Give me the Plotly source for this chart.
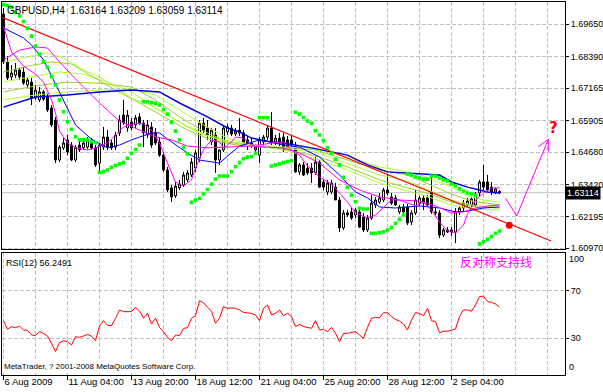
import plotly.graph_objects as go

# ---------------- data ----------------
symbol = "GBPUSD,H4"

opens = [1.7004, 1.6818, 1.6760, 1.6767, 1.6787, 1.6779, 1.6729, 1.6740, 1.6678, 1.6671,
         1.6702, 1.6682, 1.6640, 1.6593, 1.6438, 1.6485, 1.6516, 1.6496, 1.6438, 1.6496,
         1.6485, 1.6488, 1.6508, 1.6485, 1.6426, 1.6488, 1.6527, 1.6504, 1.6488, 1.6543,
         1.6612, 1.6562, 1.6585, 1.6574, 1.6605, 1.6581, 1.6535, 1.6566, 1.6543, 1.6508,
         1.6457, 1.6399, 1.6330, 1.6299, 1.6330, 1.6341, 1.6361, 1.6380, 1.6407, 1.6446,
         1.6581, 1.6562, 1.6508, 1.6535, 1.6438, 1.6477, 1.6547, 1.6562, 1.6539, 1.6554,
         1.6543, 1.6516, 1.6504, 1.6477, 1.6457, 1.6508, 1.6527, 1.6562, 1.6508, 1.6523,
         1.6527, 1.6516, 1.6516, 1.6488, 1.6392, 1.6419, 1.6407, 1.6407, 1.6388, 1.6430,
         1.6353, 1.6314, 1.6314, 1.6333, 1.6283, 1.6175, 1.6233, 1.6237, 1.6225, 1.6237,
         1.6217, 1.6167, 1.6213, 1.6264, 1.6275, 1.6283, 1.6322, 1.6295, 1.6291, 1.6237,
         1.6256, 1.6256, 1.6198, 1.6233, 1.6271, 1.6291, 1.6291, 1.6314, 1.6237, 1.6233,
         1.6147, 1.6167, 1.6159, 1.6159, 1.6237, 1.6252, 1.6264, 1.6264, 1.6264, 1.6310,
         1.6353, 1.6353, 1.6333, 1.6314, 1.63164]
highs = [1.7027, 1.6841, 1.6806, 1.6814, 1.6795, 1.6798, 1.6756, 1.6756, 1.6729, 1.6721,
         1.6709, 1.6698, 1.6651, 1.6605, 1.6496, 1.6523, 1.6535, 1.6508, 1.6496, 1.6516,
         1.6516, 1.6527, 1.6523, 1.6496, 1.6504, 1.6566, 1.6554, 1.6516, 1.6547, 1.6612,
         1.6671, 1.6632, 1.6601, 1.6612, 1.6620, 1.6593, 1.6593, 1.6585, 1.6562, 1.6527,
         1.6469, 1.6411, 1.6341, 1.6353, 1.6361, 1.6392, 1.6399, 1.6446, 1.6477, 1.6593,
         1.6601, 1.6593, 1.6562, 1.6562, 1.6477, 1.6570, 1.6578, 1.6574, 1.6562, 1.6601,
         1.6554, 1.6531, 1.6523, 1.6496, 1.6527, 1.6535, 1.6574, 1.6624, 1.6535, 1.6543,
         1.6543, 1.6531, 1.6535, 1.6508, 1.6426, 1.6430, 1.6426, 1.6426, 1.6450, 1.6438,
         1.6361, 1.6361, 1.6361, 1.6349, 1.6295, 1.6244, 1.6244, 1.6252, 1.6252, 1.6252,
         1.6233, 1.6225, 1.6302, 1.6295, 1.6310, 1.6330, 1.6380, 1.6310, 1.6302, 1.6264,
         1.6268, 1.6268, 1.6244, 1.6322, 1.6299, 1.6302, 1.6302, 1.6380, 1.6252, 1.6244,
         1.6175, 1.6178, 1.6178, 1.6252, 1.6260, 1.6283, 1.6291, 1.6295, 1.6314, 1.6361,
         1.6419, 1.6380, 1.6353, 1.6330, 1.63209]
lows = [1.6810, 1.6748, 1.6748, 1.6756, 1.6748, 1.6729, 1.6717, 1.6651, 1.6671, 1.6663,
        1.6667, 1.6624, 1.6566, 1.6426, 1.6430, 1.6477, 1.6457, 1.6434, 1.6430, 1.6469,
        1.6477, 1.6481, 1.6477, 1.6411, 1.6392, 1.6477, 1.6477, 1.6477, 1.6477, 1.6531,
        1.6574, 1.6547, 1.6554, 1.6562, 1.6574, 1.6488, 1.6523, 1.6485, 1.6496, 1.6450,
        1.6392, 1.6314, 1.6275, 1.6291, 1.6322, 1.6333, 1.6353, 1.6372, 1.6392, 1.6430,
        1.6543, 1.6516, 1.6496, 1.6388, 1.6419, 1.6469, 1.6535, 1.6531, 1.6531, 1.6531,
        1.6492, 1.6477, 1.6485, 1.6457, 1.6426, 1.6492, 1.6516, 1.6496, 1.6496, 1.6492,
        1.6469, 1.6477, 1.6485, 1.6388, 1.6380, 1.6376, 1.6380, 1.6349, 1.6380, 1.6330,
        1.6322, 1.6302, 1.6306, 1.6283, 1.6159, 1.6167, 1.6217, 1.6206, 1.6213, 1.6175,
        1.6159, 1.6159, 1.6206, 1.6252, 1.6268, 1.6275, 1.6302, 1.6264, 1.6260, 1.6229,
        1.6233, 1.6186, 1.6186, 1.6225, 1.6260, 1.6244, 1.6256, 1.6229, 1.6225, 1.6136,
        1.6140, 1.6155, 1.6144, 1.6116, 1.6225, 1.6237, 1.6252, 1.6256, 1.6256, 1.6295,
        1.6322, 1.6314, 1.6302, 1.6306, 1.63059]
closes = [1.6818, 1.6756, 1.6775, 1.6787, 1.6760, 1.6736, 1.6748, 1.6678, 1.6709, 1.6702,
          1.6674, 1.6632, 1.6574, 1.6438, 1.6488, 1.6504, 1.6469, 1.6438, 1.6488, 1.6477,
          1.6504, 1.6516, 1.6485, 1.6419, 1.6496, 1.6527, 1.6488, 1.6485, 1.6535, 1.6593,
          1.6581, 1.6612, 1.6562, 1.6601, 1.6581, 1.6543, 1.6574, 1.6496, 1.6504, 1.6457,
          1.6399, 1.6322, 1.6295, 1.6337, 1.6345, 1.6380, 1.6388, 1.6430, 1.6465, 1.6581,
          1.6554, 1.6535, 1.6554, 1.6438, 1.6477, 1.6562, 1.6566, 1.6539, 1.6550, 1.6543,
          1.6500, 1.6496, 1.6492, 1.6488, 1.6516, 1.6527, 1.6562, 1.6508, 1.6523, 1.6504,
          1.6477, 1.6485, 1.6496, 1.6392, 1.6419, 1.6380, 1.6388, 1.6388, 1.6430, 1.6333,
          1.6333, 1.6349, 1.6349, 1.6283, 1.6175, 1.6233, 1.6225, 1.6213, 1.6244, 1.6178,
          1.6167, 1.6213, 1.6271, 1.6283, 1.6291, 1.6322, 1.6310, 1.6271, 1.6264, 1.6256,
          1.6237, 1.6194, 1.6233, 1.6283, 1.6291, 1.6271, 1.6264, 1.6237, 1.6233, 1.6147,
          1.6167, 1.6159, 1.6167, 1.6237, 1.6252, 1.6271, 1.6279, 1.6287, 1.6302, 1.6353,
          1.6333, 1.6322, 1.6314, 1.6326, 1.63114]

# Parabolic SAR, one dot per bar
sar = [1.7040, 1.7037, 1.7030, 1.7010, 1.6996, 1.6975, 1.6948, 1.6918, 1.6880, 1.6849,
       1.6819, 1.6797, 1.6761, 1.6729, 1.6671, 1.6625, 1.6586, 1.6557, 1.6528, 1.6516,
       1.6516, 1.6516, 1.6509, 1.6505, 1.6390, 1.6393, 1.6399, 1.6410, 1.6417, 1.6423,
       1.6428, 1.6445, 1.6464, 1.6479, 1.6496, 1.6664, 1.6664, 1.6660, 1.6658, 1.6651,
       1.6634, 1.6616, 1.6584, 1.6550, 1.6516, 1.6487, 1.6461, 1.6274, 1.6283, 1.6290,
       1.6306, 1.6324, 1.6344, 1.6364, 1.6376, 1.6376, 1.6376, 1.6393, 1.6412, 1.6428,
       1.6443, 1.6449, 1.6451, 1.6464, 1.6603, 1.6602, 1.6602, 1.6415, 1.6419, 1.6423,
       1.6428, 1.6432, 1.6435, 1.6623, 1.6616, 1.6603, 1.6589, 1.6580, 1.6552, 1.6535,
       1.6513, 1.6486, 1.6464, 1.6441, 1.6419, 1.6371, 1.6332, 1.6302, 1.6276, 1.6251,
       1.6248, 1.6248, 1.6154, 1.6154, 1.6156, 1.6160, 1.6167, 1.6177, 1.6193, 1.6208,
       1.6225, 1.6384, 1.6380, 1.6372, 1.6368, 1.6364, 1.6364, 1.6376, 1.6376, 1.6368,
       1.6361, 1.6357, 1.6345, 1.6337, 1.6326, 1.6318, 1.6310, 1.6306, 1.6302, 1.6113,
       1.6121, 1.6131, 1.6141, 1.6154, 1.6163]

# RSI(12), one value per bar
rsi = [44.8, 37.5, 39.8, 38.9, 40.3, 37.0, 36.7, 32.8, 32.2, 35.6,
       34.2, 31.9, 25.8, 18.8, 26.3, 28.0, 27.2, 24.4, 31.4, 30.8,
       31.9, 33.3, 31.9, 28.0, 40.3, 44.8, 40.9, 40.6, 46.8, 53.8,
       52.4, 52.7, 52.4, 56.0, 52.9, 46.8, 51.0, 42.0, 46.8, 39.2,
       35.6, 30.8, 28.0, 32.8, 32.2, 38.4, 38.9, 46.8, 49.0, 61.6,
       59.9, 56.0, 52.9, 42.6, 46.8, 56.6, 55.2, 55.5, 55.2, 53.8,
       51.8, 51.3, 51.0, 49.6, 44.8, 55.2, 58.0, 49.6, 51.0, 53.8,
       49.0, 51.0, 48.2, 39.8, 41.7, 39.8, 39.2, 38.4, 44.8, 37.0,
       37.5, 35.6, 39.2, 34.2, 27.2, 34.2, 34.2, 34.7, 35.6, 32.8,
       30.0, 39.2, 46.8, 47.6, 47.3, 51.5, 51.5, 48.2, 45.9, 44.5,
       42.0, 37.0, 45.4, 51.5, 51.0, 49.0, 55.2, 44.8, 44.0, 34.7,
       35.9, 35.9, 37.0, 37.8, 48.2, 53.8, 53.8, 52.7, 58.0, 65.0,
       65.5, 60.8, 60.2, 58.8, 56.2491]

# moving-average style lines (vertices read at bar positions)
fast_ma_bars = [0, 2, 5, 8, 10, 12, 13, 14, 16, 18, 21, 23, 26, 28, 30, 33, 35, 37, 39, 41,
                43, 45, 47, 48, 50, 52, 54, 55, 57, 58, 60, 62, 64, 67, 70, 72, 74, 76, 79, 82,
                84, 86, 88, 91, 93, 95, 97, 99, 101, 103, 105, 107, 109, 111, 113, 115, 116, 118, 120, 122, 124]
fast_ma = [1.6955, 1.6857, 1.6802, 1.6771, 1.6740, 1.6671, 1.6620, 1.6550, 1.6504, 1.6485,
           1.6477, 1.6485, 1.6504, 1.6535, 1.6566, 1.6581, 1.6578, 1.6554, 1.6504, 1.6426,
           1.6353, 1.6337, 1.6361, 1.6407, 1.6477, 1.6516, 1.6508, 1.6485, 1.6508, 1.6527,
           1.6523, 1.6496, 1.6496, 1.6504, 1.6508, 1.6477, 1.6457, 1.6415, 1.6372, 1.6345,
           1.6310, 1.6275, 1.6233, 1.6213, 1.6225, 1.6256, 1.6283, 1.6283, 1.6271, 1.6260,
           1.6275, 1.6244, 1.6198, 1.6163, 1.6155, 1.6186, 1.6229, 1.6283, 1.6310, 1.6330, 1.6330]

slow_ma_bars = [0, 4, 8, 11, 14, 18, 24, 29, 34, 38, 42, 46, 51, 56, 62, 66, 70, 74, 79, 84,
                89, 94, 99, 104, 108, 112, 115, 118, 121, 124]
slow_ma = [1.6826, 1.6864, 1.6876, 1.6872, 1.6818, 1.6752, 1.6659, 1.6589, 1.6554, 1.6527,
           1.6516, 1.6492, 1.6485, 1.6488, 1.6492, 1.6488, 1.6485, 1.6465, 1.6426, 1.6361,
           1.6322, 1.6295, 1.6283, 1.6279, 1.6260, 1.6233, 1.6237, 1.6252, 1.6260, 1.6264]

blue_thin_bars = [0, 5, 7, 10, 12, 15, 18, 22, 26, 29, 32, 37, 39, 41, 46, 49, 54, 56, 59, 64,
                  70, 74, 79, 84, 88, 91, 94, 98, 102, 104, 109, 113, 116, 120, 124]
blue_thin = [1.6950, 1.6911, 1.6884, 1.6826, 1.6764, 1.6671, 1.6574, 1.6519, 1.6485, 1.6496,
             1.6516, 1.6543, 1.6543, 1.6519, 1.6465, 1.6438, 1.6426, 1.6453, 1.6492, 1.6516,
             1.6496, 1.6488, 1.6450, 1.6380, 1.6314, 1.6291, 1.6256, 1.6252, 1.6256, 1.6260,
             1.6252, 1.6237, 1.6240, 1.6252, 1.6256]

blue_thick_bars = [0, 8, 16, 24, 32, 39, 44, 51, 56, 59, 62, 67, 70, 77, 86, 91, 96, 101, 105,
                   109, 112, 116, 119, 121, 124]
blue_thick = [1.6643, 1.6682, 1.6690, 1.6702, 1.6709, 1.6702, 1.6659, 1.6605, 1.6562, 1.6547,
              1.6523, 1.6508, 1.6504, 1.6485, 1.6457, 1.6419, 1.6392, 1.6388, 1.6384, 1.6380,
              1.6353, 1.6333, 1.6322, 1.6314, 1.6310]

ribbon1_bars = [0, 6, 11, 15, 20, 24, 28, 32, 36, 40, 46, 50, 56, 62, 70, 77, 86, 94, 101, 105, 112, 116, 120, 124]
ribbon1 = [1.6818, 1.6837, 1.6853, 1.6833, 1.6787, 1.6760, 1.6721, 1.6678, 1.6655, 1.6620,
           1.6566, 1.6535, 1.6512, 1.6496, 1.6488, 1.6485, 1.6450, 1.6411, 1.6392, 1.6376,
           1.6333, 1.6299, 1.6283, 1.6275]
ribbon2_bars = [0, 6, 12, 17, 22, 28, 34, 40, 46, 52, 58, 66, 72, 78, 86, 94, 101, 105, 112, 117, 124]
ribbon2 = [1.6779, 1.6802, 1.6818, 1.6810, 1.6764, 1.6709, 1.6659, 1.6608, 1.6554, 1.6516,
           1.6496, 1.6488, 1.6485, 1.6477, 1.6438, 1.6399, 1.6380, 1.6353, 1.6306, 1.6279, 1.6264]
ribbon3_bars = [0, 8, 14, 20, 26, 32, 38, 44, 50, 56, 62, 70, 78, 86, 94, 101, 105, 112, 118, 124]
ribbon3 = [1.6740, 1.6764, 1.6779, 1.6771, 1.6740, 1.6702, 1.6640, 1.6585, 1.6539, 1.6504,
           1.6492, 1.6485, 1.6469, 1.6426, 1.6380, 1.6357, 1.6330, 1.6283, 1.6260, 1.6256]
ribbon4_bars = [0, 8, 16, 24, 32, 38, 44, 50, 56, 62, 70, 79, 86, 94, 101, 105, 112, 118, 124]
ribbon4 = [1.6702, 1.6725, 1.6740, 1.6736, 1.6721, 1.6671, 1.6605, 1.6550, 1.6508, 1.6492,
           1.6481, 1.6450, 1.6411, 1.6361, 1.6330, 1.6314, 1.6275, 1.6256, 1.6252]
ribbon5_bars = [0, 8, 16, 24, 32, 38, 44, 50, 56, 62, 70, 79, 86, 94, 101, 105, 112, 118, 124]
ribbon5 = [1.6671, 1.6690, 1.6702, 1.6709, 1.6713, 1.6690, 1.6632, 1.6574, 1.6523, 1.6496,
           1.6477, 1.6438, 1.6399, 1.6349, 1.6318, 1.6302, 1.6264, 1.6248, 1.6244]

# hand-drawn objects
trend_bars = [-0.375, 136.9]
trend_prices = [1.69906, 1.61241]
support_dot_bar = [126.45]
support_dot_price = [1.6185]
arrow_bars = [125.55, 128.3, 136.2]
arrow_prices = [1.62896, 1.62210, 1.65182]
arrowhead_bars = [133.7, 136.2, 136.2]
arrowhead_prices = [1.64895, 1.65182, 1.64701]
question_bar, question_price = 137.4, 1.6562

# axis ticks
price_ticks = [1.69650, 1.68390, 1.67165, 1.65905, 1.64680, 1.63420, 1.62195, 1.60970]
date_tick_bars = [0, 16, 32, 48, 64, 80, 96, 112]
date_labels = ["6 Aug 2009", "11 Aug 04:00", "13 Aug 20:00", "18 Aug 12:00",
               "21 Aug 04:00", "25 Aug 20:00", "28 Aug 12:00", "2 Sep 04:00"]
grid_bars = list(range(8, 141, 8))
rsi_ticks = [70, 30]

# ---------------- figure ----------------
FONT = "Liberation Sans, Arial, sans-serif"
GRID = "#C0C0C0"
DASH = "4px,2px"
X_RANGE = [-0.375, 140.375]
P_RANGE = [1.60920, 1.70503]
RSI_RANGE = [-0.84, 101.93]
bars = list(range(len(closes)))

fig = go.Figure()

fig.add_shape(type="line", xref="x domain", yref="y", x0=0, x1=1,
              y0=closes[-1], y1=closes[-1], line=dict(color="#C0C0C0", width=1), layer="below")

fig.add_trace(go.Candlestick(
    x=bars, open=opens, high=highs, low=lows, close=closes,
    increasing=dict(line=dict(color="black", width=1), fillcolor="white"),
    decreasing=dict(line=dict(color="black", width=1), fillcolor="black"),
    whiskerwidth=0, hoverinfo="skip", xaxis="x", yaxis="y"))

ribbons = [(ribbon5_bars, ribbon5, "#ADFF2F"), (ribbon4_bars, ribbon4, "#9ACD32"),
           (ribbon3_bars, ribbon3, "#ADFF2F"), (ribbon2_bars, ribbon2, "#9ACD32"),
           (ribbon1_bars, ribbon1, "#ADFF2F")]
for bx, by, col in ribbons:
    fig.add_trace(go.Scatter(x=bx, y=by, mode="lines", line=dict(color=col, width=1),
                             hoverinfo="skip", xaxis="x", yaxis="y"))

fig.add_trace(go.Scatter(x=blue_thick_bars, y=blue_thick, mode="lines",
                         line=dict(color="#0000E0", width=1.5), hoverinfo="skip"))
fig.add_trace(go.Scatter(x=blue_thin_bars, y=blue_thin, mode="lines",
                         line=dict(color="#0000FF", width=1), hoverinfo="skip"))
fig.add_trace(go.Scatter(x=slow_ma_bars, y=slow_ma, mode="lines",
                         line=dict(color="#FF00FF", width=1), hoverinfo="skip"))
fig.add_trace(go.Scatter(x=fast_ma_bars, y=fast_ma, mode="lines",
                         line=dict(color="#FF00FF", width=1), hoverinfo="skip"))

fig.add_trace(go.Scatter(x=trend_bars, y=trend_prices, mode="lines",
                         line=dict(color="#FF0000", width=1.2), hoverinfo="skip"))
fig.add_trace(go.Scatter(x=bars, y=sar, mode="markers",
                         marker=dict(symbol="square", size=3.6, color="#00FF00", line=dict(width=0)),
                         hoverinfo="skip"))
fig.add_trace(go.Scatter(x=support_dot_bar, y=support_dot_price, mode="markers",
                         marker=dict(symbol="circle", size=7, color="#FF0000", line=dict(width=0)),
                         hoverinfo="skip"))
fig.add_trace(go.Scatter(x=arrow_bars, y=arrow_prices, mode="lines",
                         line=dict(color="#FF00FF", width=1), hoverinfo="skip"))
fig.add_trace(go.Scatter(x=arrowhead_bars, y=arrowhead_prices, mode="lines",
                         line=dict(color="#FF00FF", width=1), hoverinfo="skip"))

fig.add_trace(go.Scatter(x=bars, y=rsi, mode="lines", line=dict(color="#FF0000", width=1),
                         hoverinfo="skip", xaxis="x2", yaxis="y2"))

axis_common = dict(showline=True, linecolor="black", linewidth=1, zeroline=False,
                   automargin=False, fixedrange=True)

fig.update_layout(
    template="none",
    width=603, height=392,
    margin=dict(l=2, r=38, t=2, b=17),
    paper_bgcolor="white", plot_bgcolor="white",
    showlegend=False, hovermode=False,
    font=dict(family=FONT, size=9, color="black"),
    xaxis=dict(domain=[0, 1], range=X_RANGE, anchor="y", mirror=True,
               tickmode="array", tickvals=grid_bars, showticklabels=False, ticks="",
               showgrid=True, gridcolor=GRID, gridwidth=1, griddash=DASH,
               rangeslider=dict(visible=False), **axis_common),
    yaxis=dict(domain=[0.3370, 1], range=P_RANGE, anchor="x", side="right", mirror=True,
               tickmode="array", tickvals=price_ticks, ticktext=[f"{p:.5f}" for p in price_ticks],
               ticks="outside", ticklen=3, tickcolor="black", tickfont=dict(size=9),
               showgrid=True, gridcolor=GRID, gridwidth=1, griddash=DASH, **axis_common),
    yaxis3=dict(overlaying="y", anchor="x", side="left", range=P_RANGE, showgrid=False,
                showticklabels=False, ticks="", showline=True, linecolor="black", linewidth=2.5,
                zeroline=False, automargin=False, fixedrange=True),
    xaxis2=dict(domain=[0, 1], range=X_RANGE, anchor="y2", mirror=True,
                tickmode="array", tickvals=date_tick_bars, ticktext=date_labels,
                ticks="outside", ticklen=4, tickcolor="black", ticklabelposition="outside right",
                tickangle=0, ticklabelstandoff=-2, tickfont=dict(size=9.5),
                showgrid=True, gridcolor=GRID, gridwidth=1, griddash=DASH,
                minor=dict(tickmode="array", tickvals=grid_bars, ticks="", showgrid=True,
                           gridcolor=GRID, gridwidth=1, griddash=DASH),
                rangeslider=dict(visible=False), **axis_common),
    yaxis2=dict(domain=[0, 0.3279], range=RSI_RANGE, anchor="x2", side="right", mirror=True,
                tickmode="array", tickvals=rsi_ticks, ticktext=[str(t) for t in rsi_ticks],
                ticks="outside", ticklen=3, tickcolor="black", tickfont=dict(size=9),
                showgrid=True, gridcolor=GRID, gridwidth=1, griddash=DASH, **axis_common),
)

title_text = (f"{symbol}\u00a0\u00a0{opens[-1]:.5f} {highs[-1]:.5f} "
              f"{lows[-1]:.5f} {closes[-1]:.5f}")
annotations = [
    dict(text=title_text, xref="paper", yref="paper", x=0.005, y=0.976,
         xanchor="left", yanchor="middle", showarrow=False, font=dict(size=10, color="black")),
    dict(text=f"{closes[-1]:.5f}", xref="paper", yref="y", x=1, y=closes[-1],
         xanchor="left", yanchor="middle", xshift=0, showarrow=False, bgcolor="black",
         borderpad=1, font=dict(size=9, color="white")),
    dict(text="<b>?</b>", xref="x", yref="y", x=question_bar, y=question_price,
         xanchor="center", yanchor="middle", showarrow=False,
         font=dict(size=15, color="#FF0000", family="DejaVu Sans, sans-serif")),
    dict(text=f"RSI(12) {rsi[-1]:.4f}", xref="paper", yref="paper", x=0.003, y=0.300,
         xanchor="left", yanchor="middle", showarrow=False, font=dict(size=9, color="black")),
    dict(text="反对称支持线", xref="paper", yref="paper", x=0.877, y=0.303,
         xanchor="center", yanchor="middle", showarrow=False,
         font=dict(size=12, color="#FF00FF", family="Noto Sans CJK SC")),
    dict(text="MetaTrader, ? 2001-2008 MetaQuotes Software Corp.", xref="paper", yref="paper",
         x=0.0, y=0.024, xanchor="left", yanchor="middle", showarrow=False, bgcolor="white",
         font=dict(size=8, color="black")),
    dict(text="100", xref="paper", yref="y2", x=1, y=96.6, xanchor="left", yanchor="middle",
         xshift=2, showarrow=False, font=dict(size=9, color="black")),
    dict(text="0", xref="paper", yref="y2", x=1, y=6.1, xanchor="left", yanchor="middle",
         xshift=2, showarrow=False, font=dict(size=9, color="black")),
]
fig.update_layout(annotations=annotations)

fig.write_html("out.html", config={"displayModeBar": False},
               post_script="document.body.style.margin='0';document.body.style.overflow='hidden';")
